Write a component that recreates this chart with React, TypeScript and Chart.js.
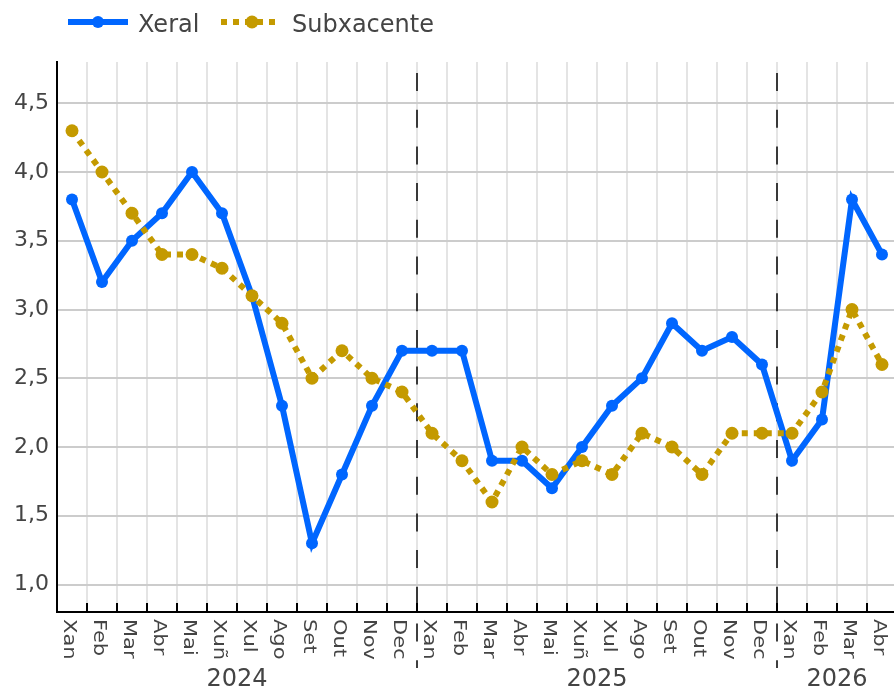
import React, { useEffect, useRef } from "react";
import { Chart, registerables } from "chart.js";

Chart.register(...registerables);

const monthLabels = [
  "Xan", "Feb", "Mar", "Abr", "Mai", "Xuñ", "Xul", "Ago", "Set", "Out", "Nov", "Dec",
  "Xan", "Feb", "Mar", "Abr", "Mai", "Xuñ", "Xul", "Ago", "Set", "Out", "Nov", "Dec",
  "Xan", "Feb", "Mar", "Abr",
];
const yearLabels = ["2024", "2025", "2026"];
const yearFirstIndex = [0, 12, 24];
const yearLastIndex = [11, 23, 27];

const xeral = [
  3.8, 3.2, 3.5, 3.7, 4.0, 3.7, 3.1, 2.3, 1.3, 1.8, 2.3, 2.7,
  2.7, 2.7, 1.9, 1.9, 1.7, 2.0, 2.3, 2.5, 2.9, 2.7, 2.8, 2.6,
  1.9, 2.2, 3.8, 3.4,
];
const subxacente = [
  4.3, 4.0, 3.7, 3.4, 3.4, 3.3, 3.1, 2.9, 2.5, 2.7, 2.5, 2.4,
  2.1, 1.9, 1.6, 2.0, 1.8, 1.9, 1.8, 2.1, 2.0, 1.8, 2.1, 2.1,
  2.1, 2.4, 3.0, 2.6,
];
const yTickValues = [1.0, 1.5, 2.0, 2.5, 3.0, 3.5, 4.0, 4.5];
const seriesNames = ["Xeral", "Subxacente"];

const BLUE = "#0066FF";
const GOLD = "#C49A00";
const TEXT = "#444444";
const FONT = "'DejaVu Sans', Verdana, sans-serif";

const customPlugin = {
  id: "customDecor",
  beforeDatasetsDraw(chart: any) {
    const { ctx, chartArea } = chart;
    const x = chart.scales.x;
    ctx.save();
    ctx.strokeStyle = "#000";
    ctx.lineWidth = 1.5;
    ctx.setLineDash([18, 18.7]);
    for (let k = 1; k < yearFirstIndex.length; k++) {
      const bx =
        (x.getPixelForValue(yearFirstIndex[k] - 1) + x.getPixelForValue(yearFirstIndex[k])) / 2;
      ctx.beginPath();
      ctx.moveTo(bx, chartArea.top + 11);
      ctx.lineTo(bx, 668);
      ctx.stroke();
    }
    ctx.restore();
  },
  afterDraw(chart: any) {
    const { ctx, chartArea } = chart;
    const x = chart.scales.x;
    ctx.save();
    // tick marks at category boundaries (inside)
    ctx.strokeStyle = "#000";
    ctx.lineWidth = 2;
    for (let i = 1; i < monthLabels.length; i++) {
      const bx = (x.getPixelForValue(i - 1) + x.getPixelForValue(i)) / 2;
      ctx.beginPath();
      ctx.moveTo(bx, chartArea.bottom - 9);
      ctx.lineTo(bx, chartArea.bottom);
      ctx.stroke();
    }
    // rotated month labels
    ctx.fillStyle = TEXT;
    ctx.font = `21px ${FONT}`;
    ctx.textAlign = "left";
    ctx.textBaseline = "middle";
    for (let i = 0; i < monthLabels.length; i++) {
      const cx = x.getPixelForValue(i);
      ctx.save();
      ctx.translate(cx - 3, chartArea.bottom + 7);
      ctx.rotate(Math.PI / 2);
      ctx.scale(1, 0.87);
      ctx.fillText(monthLabels[i], 0, 0);
      ctx.restore();
    }
    // year labels
    ctx.font = `24px ${FONT}`;
    ctx.textAlign = "center";
    ctx.textBaseline = "alphabetic";
    for (let k = 0; k < yearLabels.length; k++) {
      const cx =
        (x.getPixelForValue(yearFirstIndex[k]) + x.getPixelForValue(yearLastIndex[k])) / 2;
      ctx.fillText(yearLabels[k], cx, 686);
    }
    // legend
    const ly = 22;
    ctx.lineCap = "butt";
    ctx.strokeStyle = BLUE;
    ctx.lineWidth = 6;
    ctx.beginPath();
    ctx.moveTo(68, ly);
    ctx.lineTo(128, ly);
    ctx.stroke();
    ctx.fillStyle = BLUE;
    ctx.beginPath();
    ctx.arc(98, ly, 6, 0, Math.PI * 2);
    ctx.fill();
    ctx.strokeStyle = GOLD;
    ctx.setLineDash([6, 6]);
    ctx.beginPath();
    ctx.moveTo(221, ly);
    ctx.lineTo(277, ly);
    ctx.stroke();
    ctx.setLineDash([]);
    ctx.fillStyle = GOLD;
    ctx.beginPath();
    ctx.arc(252, ly, 6.5, 0, Math.PI * 2);
    ctx.fill();
    ctx.fillStyle = TEXT;
    ctx.font = `24px ${FONT}`;
    ctx.textAlign = "left";
    ctx.fillText(seriesNames[0], 138, 32);
    ctx.fillText(seriesNames[1], 292, 32);
    ctx.restore();
  },
};

export default function App() {
  const ref = useRef<HTMLCanvasElement | null>(null);
  useEffect(() => {
    if (!ref.current) return;
    const chart = new Chart(ref.current, {
      type: "line",
      data: {
        labels: monthLabels,
        datasets: [
          {
            label: seriesNames[0],
            data: xeral,
            borderColor: BLUE,
            backgroundColor: BLUE,
            borderWidth: 6,
            pointRadius: 6,
            pointBorderWidth: 0,
            pointBackgroundColor: BLUE,
            tension: 0,
            order: 2,
          },
          {
            label: seriesNames[1],
            data: subxacente,
            borderColor: GOLD,
            backgroundColor: GOLD,
            borderWidth: 6,
            borderDash: [6, 6],
            borderCapStyle: "butt",
            pointRadius: 6.5,
            pointBorderWidth: 0,
            pointBackgroundColor: GOLD,
            tension: 0,
            order: 1,
          },
        ],
      },
      options: {
        responsive: false,
        animation: false,
        devicePixelRatio: 1,
        layout: { autoPadding: false, padding: { top: 62, right: 3, left: 0, bottom: 0 } },
        plugins: { legend: { display: false }, tooltip: { enabled: false } },
        scales: {
          x: {
            type: "category",
            offset: true,
            ticks: { display: false },
            grid: { offset: true, color: "rgb(228,228,228)", lineWidth: 2, drawTicks: false },
            border: { display: true, color: "#000", width: 2 },
            afterFit: (s: any) => {
              s.height = 78;
            },
          },
          y: {
            min: 0.8,
            max: 4.8,
            afterBuildTicks: (s: any) => {
              s.ticks = yTickValues.map((v) => ({ value: v }));
            },
            ticks: {
              padding: 8,
              color: TEXT,
              font: { family: FONT, size: 22 },
              callback: (v: any) => Number(v).toFixed(1).replace(".", ","),
            },
            grid: { color: "rgb(204,204,204)", lineWidth: 2, drawTicks: false },
            border: { display: true, color: "#000", width: 2 },
            afterFit: (s: any) => {
              s.width = 57;
            },
          },
        },
      },
      plugins: [customPlugin],
    } as any);
    return () => chart.destroy();
  }, []);
  return (
    <div
      style={{
        position: "fixed",
        left: 0,
        top: 0,
        width: 894,
        height: 690,
        overflow: "hidden",
        background: "#fff",
      }}
    >
      <canvas ref={ref} width={900} height={690} style={{ width: 900, height: 690, display: "block" }} />
    </div>
  );
}
